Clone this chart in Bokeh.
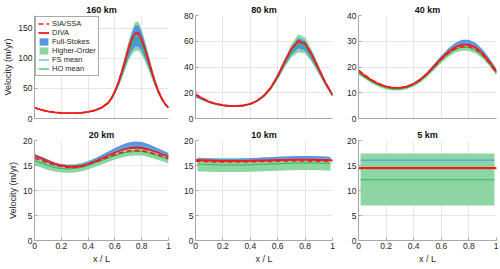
from bokeh.plotting import figure
from bokeh.layouts import gridplot
from bokeh.models import Range1d, FixedTicker, Legend, LegendItem
from bokeh.embed import file_html
from bokeh.resources import INLINE

# ---------------- data ----------------
titles = ["160 km", "80 km", "40 km", "20 km", "10 km", "5 km"]
y_max = [171, 80, 40, 20, 20, 20]
y_ticks = [[0, 50, 100, 150], [0, 20, 40, 60, 80], [0, 10, 20, 30, 40],
           [0, 5, 10, 15, 20], [0, 5, 10, 15, 20], [0, 5, 10, 15, 20]]
x_ticks = [0, 0.2, 0.4, 0.6, 0.8, 1.0]
x_tick_labels = ["0", "0.2", "0.4", "0.6", "0.8", "1"]

x_fine = [0, .05, .1, .15, .2, .25, .3, .35, .4, .45, .5, .55, .575, .6, .625,
          .65, .675, .7, .725, .75, .775, .8, .825, .85, .875, .9, .925, .95, .975, 1.0]
x_coarse = [0, .05, .1, .15, .2, .25, .3, .35, .4, .45, .5, .55, .6, .65, .7,
            .75, .8, .85, .9, .95, 1.0]
x_model_10 = [.015, .05, .1, .15, .2, .25, .3, .35, .4, .45, .5, .55, .6, .65, .7,
              .75, .8, .85, .9, .95, .985]
x_line_5 = [0.0, 1.0]
x_model_5 = [0.015, 0.985]

# 160 km
diva_160 = [18, 14.5, 11.8, 10.2, 9.2, 8.8, 8.8, 9.4, 11, 13.5, 18, 26, 34, 45, 59,
            76, 95, 115, 131, 141, 141, 131, 115, 97, 78, 60, 45, 33, 24, 18]
sia_160 = [18, 14.5, 11.8, 10.2, 9.2, 8.8, 8.8, 9.4, 11, 13.5, 18, 26, 34, 45, 59,
           76, 95, 115, 131, 142, 142, 131, 115, 97, 78, 60, 45, 33, 24, 18]
fs_mean_160 = [17.5, 14.2, 11.6, 10, 9.1, 8.7, 8.7, 9.3, 10.8, 13.3, 17.6, 25.5, 33.3, 44, 57.5,
               74, 92, 111, 126, 136, 136, 127, 111, 94, 76, 58.5, 44, 32.3, 23.6, 17.5]
fs_lo_160 = [17, 13.8, 11.2, 9.7, 8.8, 8.4, 8.4, 9, 10.4, 12.8, 17, 24.5, 32, 41.5, 53.5,
             68, 84, 100, 112, 119, 119, 113, 100, 86, 70, 55, 41.5, 31, 22.8, 17]
fs_hi_160 = [18.5, 14.8, 12, 10.4, 9.4, 9, 9, 9.6, 11.3, 13.9, 18.5, 27, 35.5, 47, 62,
             80, 101, 122, 140, 154, 155, 143, 124, 104, 83, 63, 47, 34.5, 25, 18.5]
ho_mean_160 = [17.5, 14.2, 11.6, 10, 9.1, 8.7, 8.7, 9.3, 10.8, 13.2, 17.5, 25.2, 33, 43.5, 56.5,
               73, 91, 109, 124, 134, 135, 125, 110, 93, 75, 58, 43.5, 32, 23.4, 17.5]
ho_lo_160 = [16.5, 13.5, 11, 9.5, 8.6, 8.2, 8.2, 8.8, 10.2, 12.5, 16.5, 23.5, 30.5, 39.5, 51,
             65, 80, 95, 106, 112, 113, 106, 95, 81, 66, 52, 39.5, 30, 22, 16.5]
ho_hi_160 = [18.5, 15, 12.2, 10.6, 9.6, 9.2, 9.2, 9.8, 11.5, 14.2, 19, 28, 36.5, 48.5, 64,
             83, 104, 126, 145, 160, 161, 147, 129, 108, 86, 65, 48.5, 35, 25.5, 18.5]

# 80 km
diva_80 = [18.5, 15.6, 13.0, 11.3, 10.3, 9.8, 9.7, 10.1, 11.3, 13.8, 17.8, 24.0, 33.0, 44.0,
           54.0, 60.0, 58.0, 49.5, 38.5, 27.5, 18.5]
sia_80 = [18.8, 15.8, 13.1, 11.4, 10.3, 9.8, 9.7, 10.1, 11.3, 13.8, 17.8, 24.0, 33.0, 44.0,
          54.1, 60.3, 58.3, 49.6, 38.5, 27.5, 18.3]
fs_mean_80 = [17.5, 15.0, 12.6, 11.0, 10.1, 9.6, 9.6, 10.0, 11.2, 13.7, 17.6, 23.6, 32.4, 43.0,
              52.6, 58.5, 56.6, 48.3, 37.6, 26.9, 17.8]
fs_lo_80 = [16.3, 14.2, 12.0, 10.6, 9.8, 9.3, 9.3, 9.7, 10.9, 13.3, 17.1, 22.8, 31.0, 40.8,
            49.5, 54.5, 52.8, 45.3, 35.5, 25.7, 17.0]
fs_hi_80 = [18.5, 15.7, 13.1, 11.4, 10.4, 9.9, 9.9, 10.3, 11.5, 14.1, 18.2, 24.5, 33.8, 45.3,
            55.8, 62.5, 60.3, 51.3, 39.7, 28.2, 18.7]
ho_mean_80 = [17.8, 15.2, 12.7, 11.1, 10.1, 9.6, 9.6, 10.0, 11.2, 13.6, 17.5, 23.5, 32.3, 42.8,
              52.3, 58.0, 56.2, 48.0, 37.4, 26.8, 17.8]
ho_lo_80 = [16.5, 14.2, 11.9, 10.4, 9.5, 9.0, 9.0, 9.4, 10.5, 12.8, 16.4, 22.0, 30.0, 39.5,
            47.5, 51.5, 50.5, 43.5, 34.3, 25.0, 16.8]
ho_hi_80 = [19.0, 16.0, 13.4, 11.7, 10.7, 10.2, 10.2, 10.6, 11.9, 14.5, 18.7, 25.2, 34.8, 46.5,
            57.5, 65.5, 63.0, 53.0, 41.0, 29.0, 19.0]

# 40 km
diva_40 = [18.4, 16.4, 14.7, 13.3, 12.4, 11.9, 11.9, 12.4, 13.5, 15.2, 17.6, 20.5, 23.4, 25.9,
           27.7, 28.7, 28.7, 27.6, 25.3, 22.0, 18.2]
sia_40 = [18.8, 16.7, 14.9, 13.5, 12.5, 12.0, 11.9, 12.4, 13.4, 15.1, 17.4, 20.2, 23.0, 25.3,
          27.0, 27.9, 27.9, 26.9, 24.7, 21.5, 17.7]
fs_mean_40 = [18.2, 16.3, 14.6, 13.2, 12.3, 11.8, 11.8, 12.4, 13.5, 15.3, 17.7, 20.7, 23.7, 26.4,
              28.3, 29.4, 29.5, 28.3, 25.9, 22.5, 18.6]
fs_lo_40 = [17.6, 15.8, 14.2, 12.9, 12.0, 11.6, 11.6, 12.1, 13.2, 14.9, 17.3, 20.2, 23.1, 25.6,
            27.4, 28.4, 28.5, 27.4, 25.1, 21.8, 18.0]
fs_hi_40 = [18.7, 16.7, 15.0, 13.6, 12.6, 12.1, 12.1, 12.7, 13.9, 15.7, 18.2, 21.3, 24.4, 27.2,
            29.3, 30.6, 30.6, 29.3, 26.8, 23.3, 19.2]
ho_mean_40 = [17.8, 15.9, 14.2, 12.9, 12.0, 11.5, 11.5, 12.0, 13.1, 14.8, 17.1, 19.9, 22.7, 25.1,
              26.9, 27.8, 27.7, 26.6, 24.4, 21.3, 17.6]
ho_lo_40 = [17.0, 15.2, 13.5, 12.2, 11.3, 10.9, 10.9, 11.4, 12.4, 14.0, 16.2, 18.9, 21.6, 23.9,
            25.6, 26.3, 26.2, 25.2, 23.2, 20.3, 16.8]
ho_hi_40 = [18.6, 16.6, 14.9, 13.5, 12.6, 12.2, 12.2, 12.7, 13.8, 15.5, 17.9, 20.8, 23.7, 26.2,
            28.0, 28.9, 28.9, 27.8, 25.5, 22.3, 18.5]

# 20 km
diva_20 = [17.0, 16.5, 15.9, 15.4, 15.0, 14.8, 14.75, 14.9, 15.3, 15.8, 16.4, 17.0, 17.6, 18.1,
           18.45, 18.6, 18.5, 18.2, 17.8, 17.3, 16.8]
sia_20 = [16.5, 16.0, 15.5, 15.1, 14.8, 14.6, 14.6, 14.8, 15.2, 15.7, 16.2, 16.7, 17.2, 17.6,
          17.9, 18.0, 17.95, 17.7, 17.3, 16.9, 16.4]
fs_mean_20 = [16.9, 16.4, 15.8, 15.3, 14.9, 14.8, 14.8, 15.0, 15.5, 16.0, 16.6, 17.3, 17.9, 18.5,
              18.9, 19.1, 19.0, 18.7, 18.2, 17.6, 17.0]
fs_lo_20 = [16.6, 16.1, 15.5, 15.0, 14.7, 14.6, 14.6, 14.8, 15.2, 15.7, 16.3, 16.9, 17.5, 18.0,
            18.3, 18.4, 18.3, 18.1, 17.6, 17.1, 16.6]
fs_hi_20 = [17.3, 16.8, 16.2, 15.6, 15.2, 15.1, 15.1, 15.3, 15.8, 16.4, 17.1, 17.8, 18.5, 19.1,
            19.6, 19.8, 19.7, 19.3, 18.7, 18.1, 17.5]
ho_mean_20 = [16.0, 15.5, 15.0, 14.6, 14.4, 14.3, 14.4, 14.6, 15.0, 15.5, 16.0, 16.5, 17.0, 17.4,
              17.7, 17.8, 17.8, 17.5, 17.1, 16.7, 16.2]
ho_lo_20 = [15.1, 14.6, 14.1, 13.8, 13.6, 13.5, 13.6, 13.8, 14.2, 14.7, 15.2, 15.7, 16.2, 16.6,
            16.9, 17.0, 17.0, 16.7, 16.3, 15.9, 15.4]
ho_hi_20 = [16.8, 16.3, 15.8, 15.5, 15.3, 15.2, 15.3, 15.5, 15.9, 16.4, 16.9, 17.4, 17.9, 18.3,
            18.6, 18.7, 18.7, 18.4, 18.0, 17.5, 17.1]

# 10 km
diva_10 = [16.1, 16.05, 16.0, 15.95, 15.9, 15.9, 15.9, 15.9, 15.95, 16.0, 16.0, 16.05, 16.1,
           16.1, 16.15, 16.15, 16.15, 16.15, 16.1, 16.1, 16.05]
sia_10 = [15.85, 15.8, 15.75, 15.72, 15.7, 15.7, 15.7, 15.72, 15.75, 15.78, 15.8, 15.82, 15.85,
          15.88, 15.9, 15.9, 15.9, 15.88, 15.85, 15.85, 15.82]
fs_mean_10 = [16.2, 16.15, 16.1, 16.1, 16.05, 16.05, 16.05, 16.1, 16.15, 16.2, 16.25, 16.3,
              16.35, 16.4, 16.45, 16.5, 16.5, 16.5, 16.45, 16.4, 16.35]
fs_lo_10 = [15.95, 15.9, 15.85, 15.85, 15.8, 15.8, 15.8, 15.85, 15.9, 15.95, 16.0, 16.05, 16.1,
            16.15, 16.2, 16.2, 16.2, 16.2, 16.15, 16.1, 16.05]
fs_hi_10 = [16.45, 16.4, 16.4, 16.35, 16.35, 16.35, 16.35, 16.4, 16.45, 16.5, 16.6, 16.65, 16.75,
            16.8, 16.85, 16.9, 16.9, 16.9, 16.85, 16.8, 16.7]
ho_mean_10 = [15.3, 15.25, 15.2, 15.15, 15.1, 15.1, 15.1, 15.1, 15.15, 15.2, 15.25, 15.3, 15.35,
              15.4, 15.45, 15.5, 15.5, 15.5, 15.45, 15.45, 15.4]
ho_lo_10 = [13.85, 13.8, 13.75, 13.7, 13.7, 13.7, 13.7, 13.7, 13.75, 13.8, 13.85, 13.9, 13.95,
            14.0, 14.05, 14.1, 14.1, 14.1, 14.05, 14.0, 13.95]
ho_hi_10 = [16.6, 16.55, 16.5, 16.5, 16.45, 16.45, 16.45, 16.5, 16.5, 16.55, 16.6, 16.65, 16.7,
            16.75, 16.8, 16.85, 16.85, 16.85, 16.8, 16.75, 16.7]

# 5 km
diva_5 = [14.5, 14.5]
sia_5 = [14.4, 14.4]
fs_mean_5 = [16.05, 16.05]
fs_lo_5 = [15.95, 15.95]
fs_hi_5 = [16.15, 16.15]
ho_mean_5 = [12.15, 12.15]
ho_lo_5 = [7.0, 7.0]
ho_hi_5 = [17.4, 17.4]

panels = [
    (x_fine, x_fine, diva_160, sia_160, fs_mean_160, fs_lo_160, fs_hi_160, ho_mean_160, ho_lo_160, ho_hi_160),
    (x_coarse, x_coarse, diva_80, sia_80, fs_mean_80, fs_lo_80, fs_hi_80, ho_mean_80, ho_lo_80, ho_hi_80),
    (x_coarse, x_coarse, diva_40, sia_40, fs_mean_40, fs_lo_40, fs_hi_40, ho_mean_40, ho_lo_40, ho_hi_40),
    (x_coarse, x_coarse, diva_20, sia_20, fs_mean_20, fs_lo_20, fs_hi_20, ho_mean_20, ho_lo_20, ho_hi_20),
    (x_coarse, x_model_10, diva_10, sia_10, fs_mean_10, fs_lo_10, fs_hi_10, ho_mean_10, ho_lo_10, ho_hi_10),
    (x_line_5, x_model_5, diva_5, sia_5, fs_mean_5, fs_lo_5, fs_hi_5, ho_mean_5, ho_lo_5, ho_hi_5),
]

# ---------------- style ----------------
FONT = "Liberation Sans"
TXT = "#262626"
RED = "#f21c1c"
BLUE_FILL = "#4d8fe3"
GREEN_FILL = "#8dd6a3"
BLUE_LINE = "#62a8f2"
GREEN_LINE = "#2bbb52"

col_w = [179, 165, 154]
col_left = [32, 16, 14]
col_right = [11, 12, 2]
row_h = [126, 140]
row_top = [15, 14]
row_bot = [8, 23]

figs = []
for i, (xl, xm, diva, sia, fsm, fslo, fshi, hom, holo, hohi) in enumerate(panels):
    r, c = divmod(i, 3)
    p = figure(width=col_w[c], height=row_h[r], output_backend="svg", toolbar_location=None,
               x_range=Range1d(0, 1), y_range=Range1d(0, y_max[i]),
               min_border_left=col_left[c], min_border_right=col_right[c],
               min_border_top=row_top[r], min_border_bottom=row_bot[r],
               title=titles[i])
    p.title.text_font = FONT
    p.title.text_font_size = "9px"
    p.title.text_font_style = "bold"
    p.title.text_color = "#111111"
    p.title.align = "center"
    p.title.standoff = 1
    p.title.offset = 0
    p.outline_line_color = None
    p.background_fill_color = "white"
    p.border_fill_color = "white"

    g_ho = p.varea(x=xm, y1=holo, y2=hohi, fill_color=GREEN_FILL, fill_alpha=1.0)
    g_fs = p.varea(x=xm, y1=fslo, y2=fshi, fill_color=BLUE_FILL, fill_alpha=0.95)
    l_fs = p.line(xm, fsm, line_color=BLUE_LINE, line_width=1.2)
    l_ho = p.line(xm, hom, line_color=GREEN_LINE, line_width=1.2)
    l_diva = p.line(xl, diva, line_color=RED, line_width=1.8)
    l_sia = p.line(xl, sia, line_color=RED, line_width=1.6, line_dash="5 3")

    p.yaxis.ticker = FixedTicker(ticks=y_ticks[i])
    if r == 0:
        p.xaxis.ticker = FixedTicker(ticks=[])
    else:
        p.xaxis.ticker = FixedTicker(ticks=x_ticks)
        p.xaxis.major_label_overrides = {t: s for t, s in zip(x_ticks, x_tick_labels)}
        p.xaxis.axis_label = "x / L"
    for ax in (p.xaxis[0], p.yaxis[0]):
        ax.axis_line_color = "#a8a8a8"
        ax.major_tick_line_color = "#a8a8a8"
        ax.major_tick_in = 3
        ax.major_tick_out = 0
        ax.minor_tick_line_color = None
        ax.major_label_text_font = FONT
        ax.major_label_text_font_size = "8.5px"
        ax.major_label_text_color = TXT
        ax.major_label_standoff = 2
        ax.axis_label_text_font = FONT
        ax.axis_label_text_font_size = "9px"
        ax.axis_label_text_font_style = "normal"
        ax.axis_label_text_color = TXT
        ax.axis_label_standoff = 2
    if c == 0:
        p.yaxis.axis_label = "Velocity (m/yr)"
    p.xgrid.grid_line_color = "#e6e6e6"
    p.ygrid.grid_line_color = "#e6e6e6"
    p.xgrid.ticker = FixedTicker(ticks=x_ticks)
    p.ygrid.ticker = FixedTicker(ticks=y_ticks[i])

    if i == 0:
        legend = Legend(items=[
            LegendItem(label="SIA/SSA", renderers=[l_sia]),
            LegendItem(label="DIVA", renderers=[l_diva]),
            LegendItem(label="Full-Stokes", renderers=[g_fs]),
            LegendItem(label="Higher-Order", renderers=[g_ho]),
            LegendItem(label="FS mean", renderers=[l_fs]),
            LegendItem(label="HO mean", renderers=[l_ho]),
        ], location="top_left")
        legend.margin = 1
        legend.padding = 2
        legend.spacing = 0
        legend.label_height = 9
        legend.glyph_height = 9
        legend.glyph_width = 11
        legend.label_standoff = 3
        legend.label_text_font = FONT
        legend.label_text_font_size = "7.5px"
        legend.label_text_color = TXT
        legend.border_line_color = "#555555"
        legend.border_line_width = 0.8
        legend.background_fill_alpha = 1.0
        p.add_layout(legend)
    figs.append(p)

grid = gridplot([figs[0:3], figs[3:6]], toolbar_location=None)

with open("out.html", "w") as f:
    f.write(file_html(grid, INLINE))
